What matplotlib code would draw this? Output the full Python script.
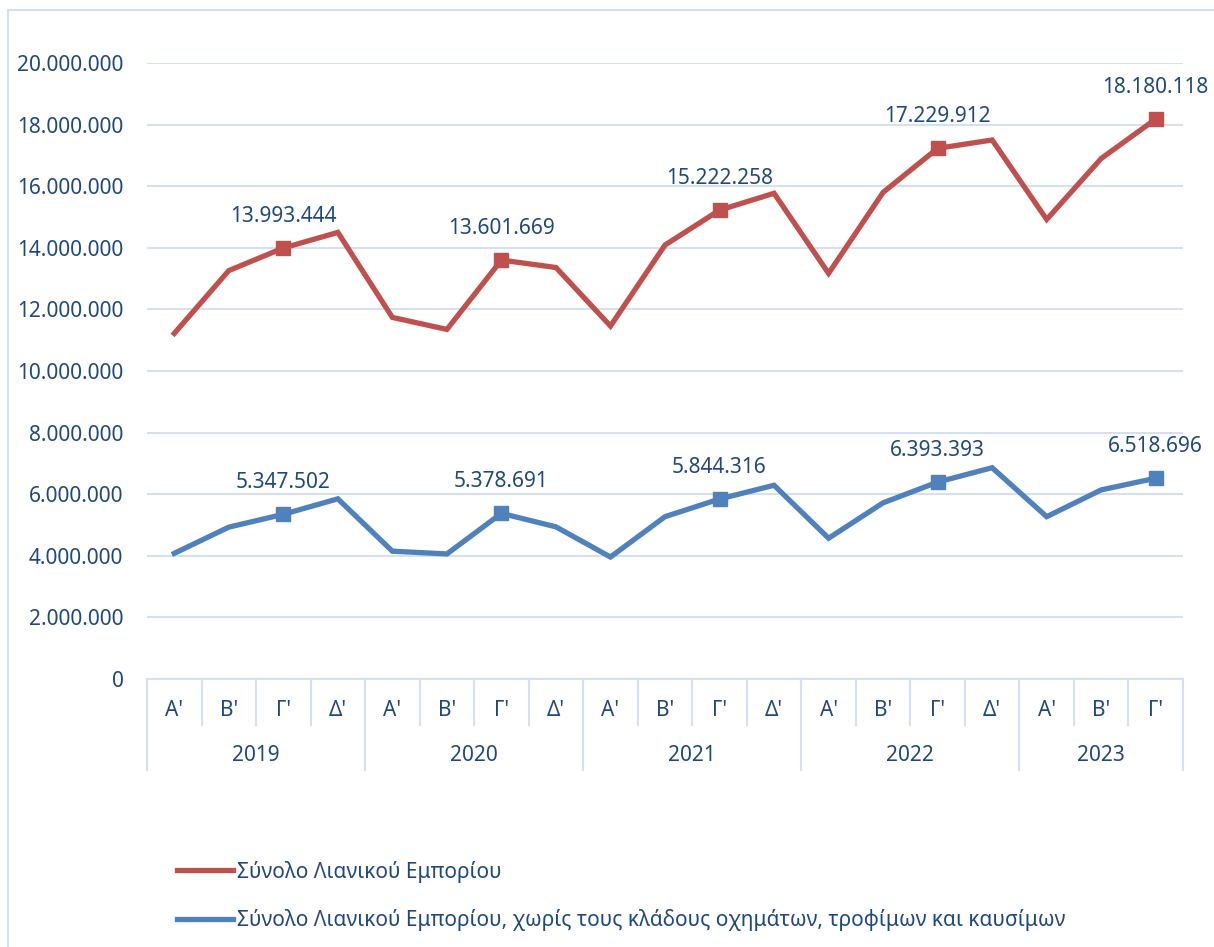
import numpy as np
import matplotlib.pyplot as plt
from matplotlib.lines import Line2D
from matplotlib.patches import Rectangle
from matplotlib.ticker import FuncFormatter

plt.rcParams['font.family'] = ['Noto Sans', 'DejaVu Sans']

# data (quarterly values)
years = ['2019', '2020', '2021', '2022', '2023']
quarters = ["A'", "B'", "Γ'", "Δ'"] * 4 + ["A'", "B'", "Γ'"]
total = [11220000, 13260000, 13993444, 14500000,
         11740000, 11350000, 13601669, 13360000,
         11460000, 14090000, 15222258, 15770000,
         13170000, 15800000, 17229912, 17500000,
         14920000, 16900000, 18180118]
core = [4080000, 4930000, 5347502, 5850000,
        4150000, 4060000, 5378691, 4940000,
        3960000, 5270000, 5844316, 6290000,
        4570000, 5720000, 6393393, 6860000,
        5270000, 6140000, 6518696]
label_total = 'Σύνολο Λιανικού Εμπορίου'
label_core = 'Σύνολο Λιανικού Εμπορίου, χωρίς τους κλάδους οχημάτων, τροφίμων και καυσίμων'

red = '#C0504D'
blue = '#4F81BD'
txt = '#1F497D'
grid = '#D6E1F0'
fs = 15

W, H = 1214, 947
fig = plt.figure(figsize=(W / 100, H / 100), dpi=100)
ax = fig.add_axes([147 / W, (H - 679) / H, (1183 - 147) / W, (679 - 63) / H])

# chart frame
fig.add_artist(Rectangle((8 / W, -0.1), 1.2, 1.1 - 10 / H, transform=fig.transFigure,
                         fill=False, edgecolor=grid, lw=1.5))

x = np.arange(len(total))
ax.plot(x, total, color=red, lw=3.8, solid_joinstyle='miter', zorder=3)
ax.plot(x, core, color=blue, lw=3.8, solid_joinstyle='miter', zorder=3)

# square markers + labels on the Γ' quarters
for series, col in [(total, red), (core, blue)]:
    for i, q in enumerate(quarters):
        if q == "Γ'":
            ax.plot(x[i], series[i], marker='s', ms=10, color=col, zorder=4)
            ax.annotate(f'{series[i]:,}'.replace(',', '.'), (x[i], series[i]),
                        xytext=(0, 23), textcoords='offset points',
                        ha='center', va='center', fontsize=fs, color=txt)

ax.set_xlim(-0.5, len(total) - 0.5)
ax.set_ylim(0, 20000000)
ax.set_yticks(np.arange(0, 20000001, 2000000))
ax.yaxis.set_major_formatter(FuncFormatter(lambda v, p: f'{int(v):,}'.replace(',', '.')))
ax.tick_params(axis='y', length=0, pad=17, labelsize=fs, labelcolor=txt)
ax.set_xticks([])
ax.grid(axis='y', color=grid, lw=1.5)
ax.set_axisbelow(True)
for s in ['top', 'right', 'left']:
    ax.spines[s].set_visible(False)
ax.spines['bottom'].set_color(grid)
ax.spines['bottom'].set_linewidth(1.5)

# two-level category axis
tr = ax.get_xaxis_transform()
ah = 679 - 63
for i, q in enumerate(quarters):
    ax.text(i, -31 / ah, q, transform=tr, ha='center', va='center', fontsize=fs, color=txt)
for k in range(len(total) + 1):
    bottom = -91 / ah if k % 4 == 0 or k == len(total) else -46 / ah
    ax.add_line(Line2D([k - 0.5, k - 0.5], [0, bottom], transform=tr, color=grid, lw=1.5,
                       clip_on=False))
for j, yr in enumerate(years):
    start = j * 4
    end = min(start + 4, len(total))
    ax.text((start + end - 1) / 2, -76 / ah, yr, transform=tr, ha='center', va='center',
            fontsize=fs, color=txt)

handles = [Line2D([], [], color=red, lw=3.8), Line2D([], [], color=blue, lw=3.8)]
fig.legend(handles, [label_total, label_core], loc='upper left',
           bbox_to_anchor=(158 / W, 1 - 842 / H), frameon=False, fontsize=fs,
           labelcolor=txt, handlelength=2.7, handletextpad=0.2, labelspacing=1.25)

fig.savefig('out.png', dpi=100)
